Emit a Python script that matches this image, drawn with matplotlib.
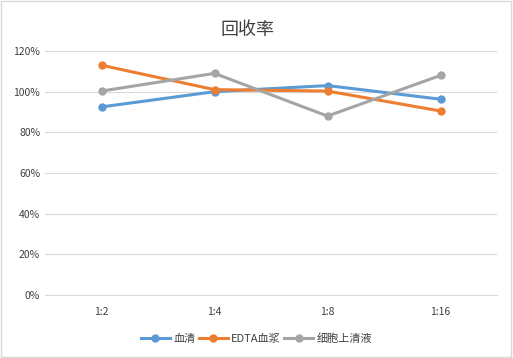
import matplotlib
matplotlib.use("Agg")
import matplotlib.pyplot as plt
from matplotlib.ticker import PercentFormatter

plt.rcParams['font.family'] = ['Noto Sans CJK SC', 'DejaVu Sans']

categories = ["1:2", "1:4", "1:8", "1:16"]
serum = [92.5, 100.0, 103.0, 96.3]
edta_plasma = [113.0, 101.0, 100.3, 90.5]
cell_supernatant = [100.3, 109.0, 88.0, 108.0]

series = [
    ("血清", serum, "#5B9BD5"),
    ("EDTA血浆", edta_plasma, "#ED7D31"),
    ("细胞上清液", cell_supernatant, "#A5A5A5"),
]

fig = plt.figure(figsize=(5.13, 3.58), dpi=100)
ax = fig.add_axes([45 / 513, 0.176, 452 / 513, 0.6815])

x = range(len(categories))
for name, vals, color in series:
    ax.plot(x, vals, color=color, linewidth=2.2, marker="o", markersize=5, label=name)

ax.set_xlim(-0.5, len(categories) - 0.5)
ax.set_ylim(0, 120)
ax.set_yticks(range(0, 121, 20))
ax.yaxis.set_major_formatter(PercentFormatter(decimals=0))
ax.set_xticks(list(x))
ax.set_xticklabels(categories)
ax.grid(axis="y", color="#D9D9D9", linewidth=0.8)
ax.set_axisbelow(True)
for s in ["top", "right", "left"]:
    ax.spines[s].set_visible(False)
ax.spines["bottom"].set_color("#D9D9D9")
ax.tick_params(axis="both", length=0, labelsize=7.5, colors="#404040")
ax.tick_params(axis="x", pad=9)

fig.text(0.482, 0.915, "回收率", ha="center", va="center", fontsize=13,
         color="#404040", fontweight="light")
fig.legend(loc="center", bbox_to_anchor=(0.5, 0.055), ncol=3, frameon=False,
           fontsize=8, handlelength=2.6, columnspacing=0.3, handletextpad=0.3,
           labelcolor="#404040")

border = plt.Rectangle((0.002, 0.003), 0.995, 0.994, transform=fig.transFigure,
                       fill=False, edgecolor="#D9D9D9", linewidth=1)
fig.patches.append(border)

fig.savefig("out.png", dpi=100)
